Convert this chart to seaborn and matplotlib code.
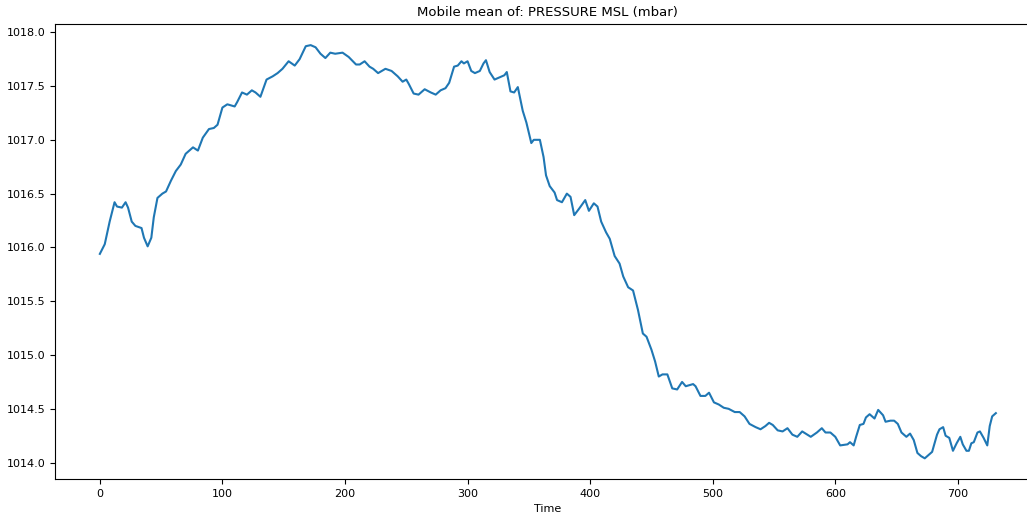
import matplotlib
matplotlib.use("Agg")
import matplotlib.pyplot as plt
import seaborn as sns
import pandas as pd

# time index (samples) and smoothed pressure values
time = [0, 4, 8, 12, 14, 18, 21, 23, 26, 29, 34, 36, 39, 42, 44, 47, 51, 54,
        58, 62, 66, 70, 76, 80, 84, 89, 93, 96, 100, 104, 110, 112, 116, 120,
        124, 127, 131, 136, 141, 145, 149, 154, 159, 163, 168, 172, 176, 180,
        184, 188, 192, 198, 203, 209, 212, 216, 220, 223, 227, 233, 238, 243,
        247, 250, 252, 256, 260, 265, 270, 274, 278, 282, 285, 289, 292, 295,
        297, 300, 303, 306, 310, 313, 315, 318, 322, 326, 330, 332, 335, 338,
        341, 345, 348, 352, 354, 359, 362, 364, 367, 371, 373, 377, 381, 384,
        387, 391, 396, 399, 403, 406, 409, 413, 416, 420, 424, 427, 431, 435,
        439, 443, 446, 450, 453, 456, 459, 463, 467, 471, 475, 478, 484, 486,
        490, 494, 497, 501, 505, 509, 513, 518, 522, 526, 530, 535, 539, 543,
        546, 549, 553, 557, 561, 565, 569, 573, 580, 585, 589, 592, 596, 600,
        604, 610, 612, 615, 617, 620, 623, 625, 628, 632, 635, 639, 641, 645,
        648, 651, 654, 658, 661, 664, 667, 670, 673, 677, 679, 683, 685, 688,
        690, 693, 696, 699, 702, 704, 707, 709, 711, 713, 716, 718, 721, 724,
        726, 728, 731]
pressure = [1015.94, 1016.03, 1016.24, 1016.42, 1016.38, 1016.37, 1016.42,
            1016.37, 1016.24, 1016.20, 1016.18, 1016.09, 1016.01, 1016.09,
            1016.28, 1016.46, 1016.50, 1016.52, 1016.62, 1016.71, 1016.77,
            1016.87, 1016.93, 1016.90, 1017.02, 1017.10, 1017.11, 1017.14,
            1017.30, 1017.33, 1017.31, 1017.35, 1017.44, 1017.42, 1017.46,
            1017.44, 1017.40, 1017.56, 1017.59, 1017.62, 1017.66, 1017.73,
            1017.69, 1017.75, 1017.87, 1017.88, 1017.86, 1017.80, 1017.76,
            1017.81, 1017.80, 1017.81, 1017.77, 1017.70, 1017.70, 1017.73,
            1017.68, 1017.66, 1017.62, 1017.66, 1017.64, 1017.59, 1017.54,
            1017.56, 1017.52, 1017.43, 1017.42, 1017.47, 1017.44, 1017.42,
            1017.46, 1017.48, 1017.53, 1017.68, 1017.69, 1017.73, 1017.71,
            1017.73, 1017.64, 1017.62, 1017.64, 1017.71, 1017.74, 1017.63,
            1017.56, 1017.58, 1017.60, 1017.63, 1017.45, 1017.44, 1017.49,
            1017.27, 1017.16, 1016.97, 1017.00, 1017.00, 1016.84, 1016.67,
            1016.57, 1016.51, 1016.44, 1016.42, 1016.50, 1016.47, 1016.30,
            1016.36, 1016.44, 1016.34, 1016.41, 1016.38, 1016.24, 1016.14,
            1016.08, 1015.92, 1015.85, 1015.73, 1015.63, 1015.60, 1015.42,
            1015.20, 1015.17, 1015.05, 1014.94, 1014.80, 1014.82, 1014.82,
            1014.69, 1014.68, 1014.75, 1014.71, 1014.73, 1014.71, 1014.62,
            1014.62, 1014.65, 1014.56, 1014.54, 1014.51, 1014.50, 1014.47,
            1014.47, 1014.43, 1014.36, 1014.33, 1014.31, 1014.34, 1014.37,
            1014.35, 1014.30, 1014.29, 1014.32, 1014.26, 1014.24, 1014.29,
            1014.24, 1014.28, 1014.32, 1014.28, 1014.28, 1014.24, 1014.16,
            1014.17, 1014.19, 1014.16, 1014.24, 1014.35, 1014.36, 1014.42,
            1014.45, 1014.41, 1014.49, 1014.44, 1014.38, 1014.39, 1014.39,
            1014.36, 1014.28, 1014.24, 1014.27, 1014.21, 1014.09, 1014.06,
            1014.04, 1014.08, 1014.10, 1014.26, 1014.31, 1014.33, 1014.25,
            1014.23, 1014.11, 1014.18, 1014.24, 1014.17, 1014.11, 1014.11,
            1014.18, 1014.19, 1014.28, 1014.29, 1014.23, 1014.16, 1014.34,
            1014.43, 1014.46]

df = pd.DataFrame({"Time": time, "pressure": pressure})

fig = plt.figure(figsize=(10.27, 5.13), dpi=100)
ax = fig.add_axes([0.0536, 0.0663, 0.9597, 0.886])
sns.lineplot(data=df, x="Time", y="pressure", ax=ax, color="#1f77b4", linewidth=1.5)

ax.set_title("Mobile mean of: PRESSURE MSL (mbar)", fontsize=9.5)
ax.set_xlabel("Time", fontsize=8)
ax.set_ylabel("")
ax.tick_params(labelsize=8)

fig.savefig("out.png", dpi=100)
